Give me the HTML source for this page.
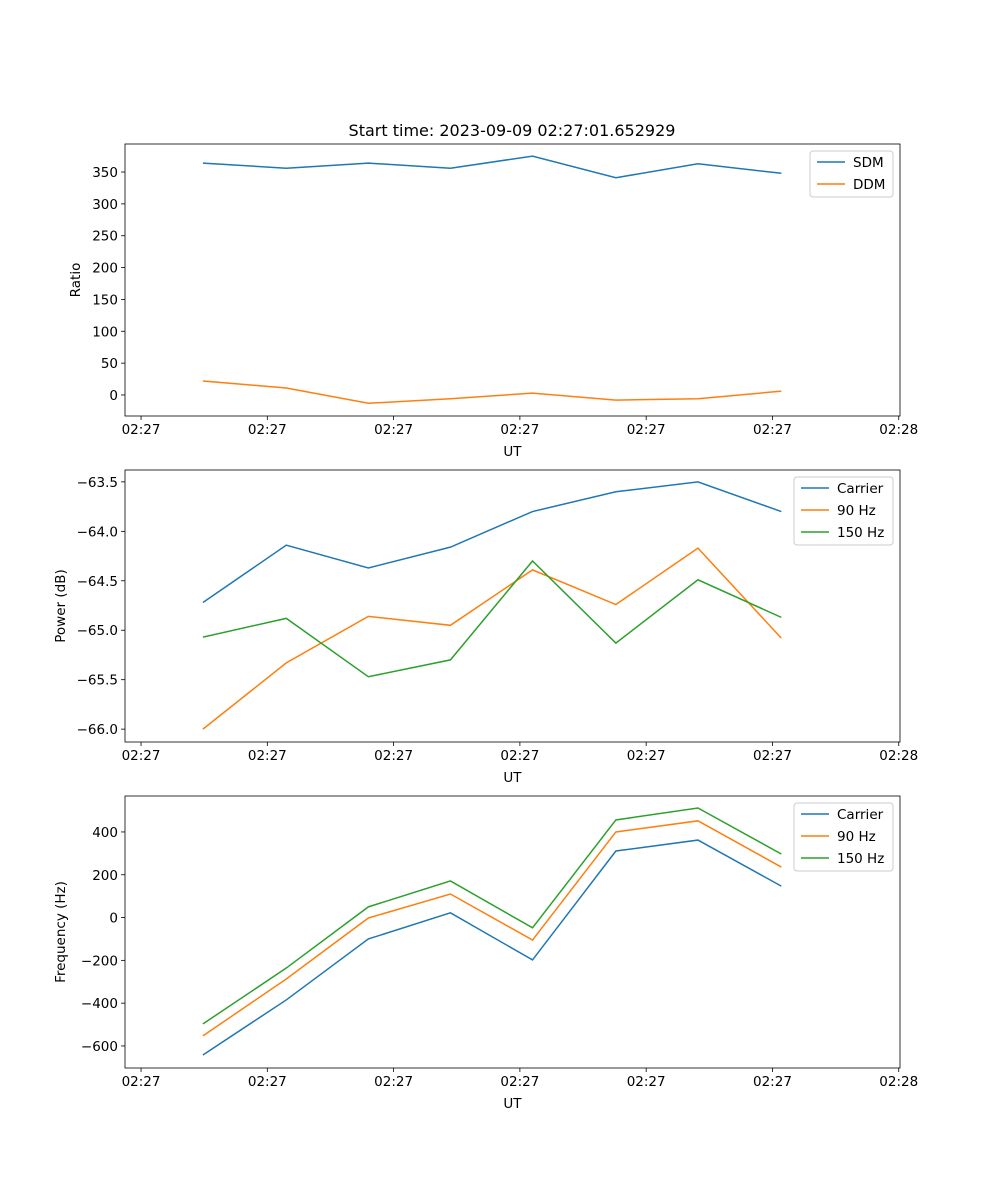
<!DOCTYPE html>
<html><head><meta charset="utf-8"><style>
html,body{margin:0;padding:0;background:#fff;}
svg{display:block;font-family:"DejaVu Sans","Liberation Sans",sans-serif;}
</style></head><body>
<svg id="fig" width="1000" height="1200" viewBox="0 0 1000 1200"></svg>
<script>
const xTickLabels = ["02:27","02:27","02:27","02:27","02:27","02:27","02:28"];
const xValues = [0.49,1.15,1.80,2.45,3.10,3.76,4.41,5.07];
const sdm = [364,356,364,356,375,341,363,348];
const ddm = [22,11,-13,-6,3,-8,-6,6];
const ratioTicks = [0,50,100,150,200,250,300,350];
const pCarrier = [-64.72,-64.14,-64.37,-64.16,-63.80,-63.60,-63.50,-63.80];
const p90 = [-66.00,-65.33,-64.86,-64.95,-64.39,-64.74,-64.17,-65.08];
const p150 = [-65.07,-64.88,-65.47,-65.30,-64.30,-65.13,-64.49,-64.87];
const powerTicks = [-66.0,-65.5,-65.0,-64.5,-64.0,-63.5];
const fCarrier = [-642,-385,-100,22,-198,311,362,147];
const f90 = [-553,-287,-2,110,-105,400,452,236];
const f150 = [-497,-236,50,171,-48,456,512,297];
const freqTicks = [-600,-400,-200,0,200,400];

const NS="http://www.w3.org/2000/svg";
const svg=document.getElementById('fig');
function mk(tag,attrs,parent){const e=document.createElementNS(NS,tag);for(const k in attrs)e.setAttribute(k,attrs[k]);(parent||svg).appendChild(e);return e;}
const C=["#1f77b4","#ff7f0e","#2ca02c"];
const L=125,R=900,xmin=-0.127,xmax=6.01;
const xs=v=>L+(v-xmin)/(xmax-xmin)*(R-L);

function panel(name,top,bottom,ymin,ymax,yticks,fmt,ylabel,series,labels,legendX){
  const g=mk('g',{});
  
  
  const ys=v=>bottom-(v-ymin)/(ymax-ymin)*(bottom-top);
  xTickLabels.forEach((t,i)=>{
    const x=xs(i);
    mk('line',{x1:x,x2:x,y1:bottom,y2:bottom+4,stroke:'#000','stroke-width':0.8},g);
    const tx=mk('text',{x:x,y:bottom+18,'font-size':13.5,'text-anchor':'middle'},g);tx.textContent=t;
    
    
  });
  yticks.forEach(v=>{
    const y=ys(v);
    mk('line',{x1:L-4,x2:L,y1:y,y2:y,stroke:'#000','stroke-width':0.8},g);
    const tx=mk('text',{x:L-7,y:y+5,'font-size':13.5,'text-anchor':'end'},g);tx.textContent=fmt(v);
    
    
  });
  series.forEach((s,k)=>{
    const p=mk('polyline',{points:s.map((v,i)=>xs(xValues[i])+','+ys(v)).join(' '),fill:'none',stroke:C[k],'stroke-width':1.5},g);
    
    
  });
  mk('rect',{x:L,y:top,width:R-L,height:bottom-top,fill:'none',stroke:'#000','stroke-width':0.8},g);
  const xl=mk('text',{x:(L+R)/2,y:bottom+40,'font-size':13.5,'text-anchor':'middle'},g);xl.textContent='UT';
  
  
  const yl=mk('text',{x:0,y:0,'font-size':13.5,'text-anchor':'middle',transform:`translate(${name==='ratio'?80:65},${(top+bottom)/2}) rotate(-90)`},g);yl.textContent=ylabel;
  
  
  const lg=mk('g',{},g);
  
  
  const h=labels.length*22+2;
  mk('rect',{x:legendX,y:top+7,width:893-legendX,height:h,fill:'#fff',stroke:'#ccc',rx:3},lg);
  labels.forEach((lab,k)=>{
    const y=top+18+k*22;
    mk('line',{x1:legendX+7,x2:legendX+35,y1:y,y2:y,stroke:C[k],'stroke-width':1.5},lg);
    const t=mk('text',{x:legendX+43,y:y+5,'font-size':13.5},lg);t.textContent=lab;
    
    
  });
}
const title=mk('text',{x:512,y:136,'font-size':16,'text-anchor':'middle'});
title.textContent='Start time: 2023-09-09 02:27:01.652929';


panel('ratio',144,416,-33,394,ratioTicks,v=>String(v),'Ratio',[sdm,ddm],['SDM','DDM'],810);
panel('power',470,742,-66.13,-63.38,powerTicks,v=>'\u2212'+Math.abs(v).toFixed(1),'Power (dB)',[pCarrier,p90,p150],['Carrier','90 Hz','150 Hz'],794);
panel('frequency',796,1068,-703,568,freqTicks,v=>(v<0?'\u2212':'')+Math.abs(v),'Frequency (Hz)',[fCarrier,f90,f150],['Carrier','90 Hz','150 Hz'],794);
</script>
</body></html>
